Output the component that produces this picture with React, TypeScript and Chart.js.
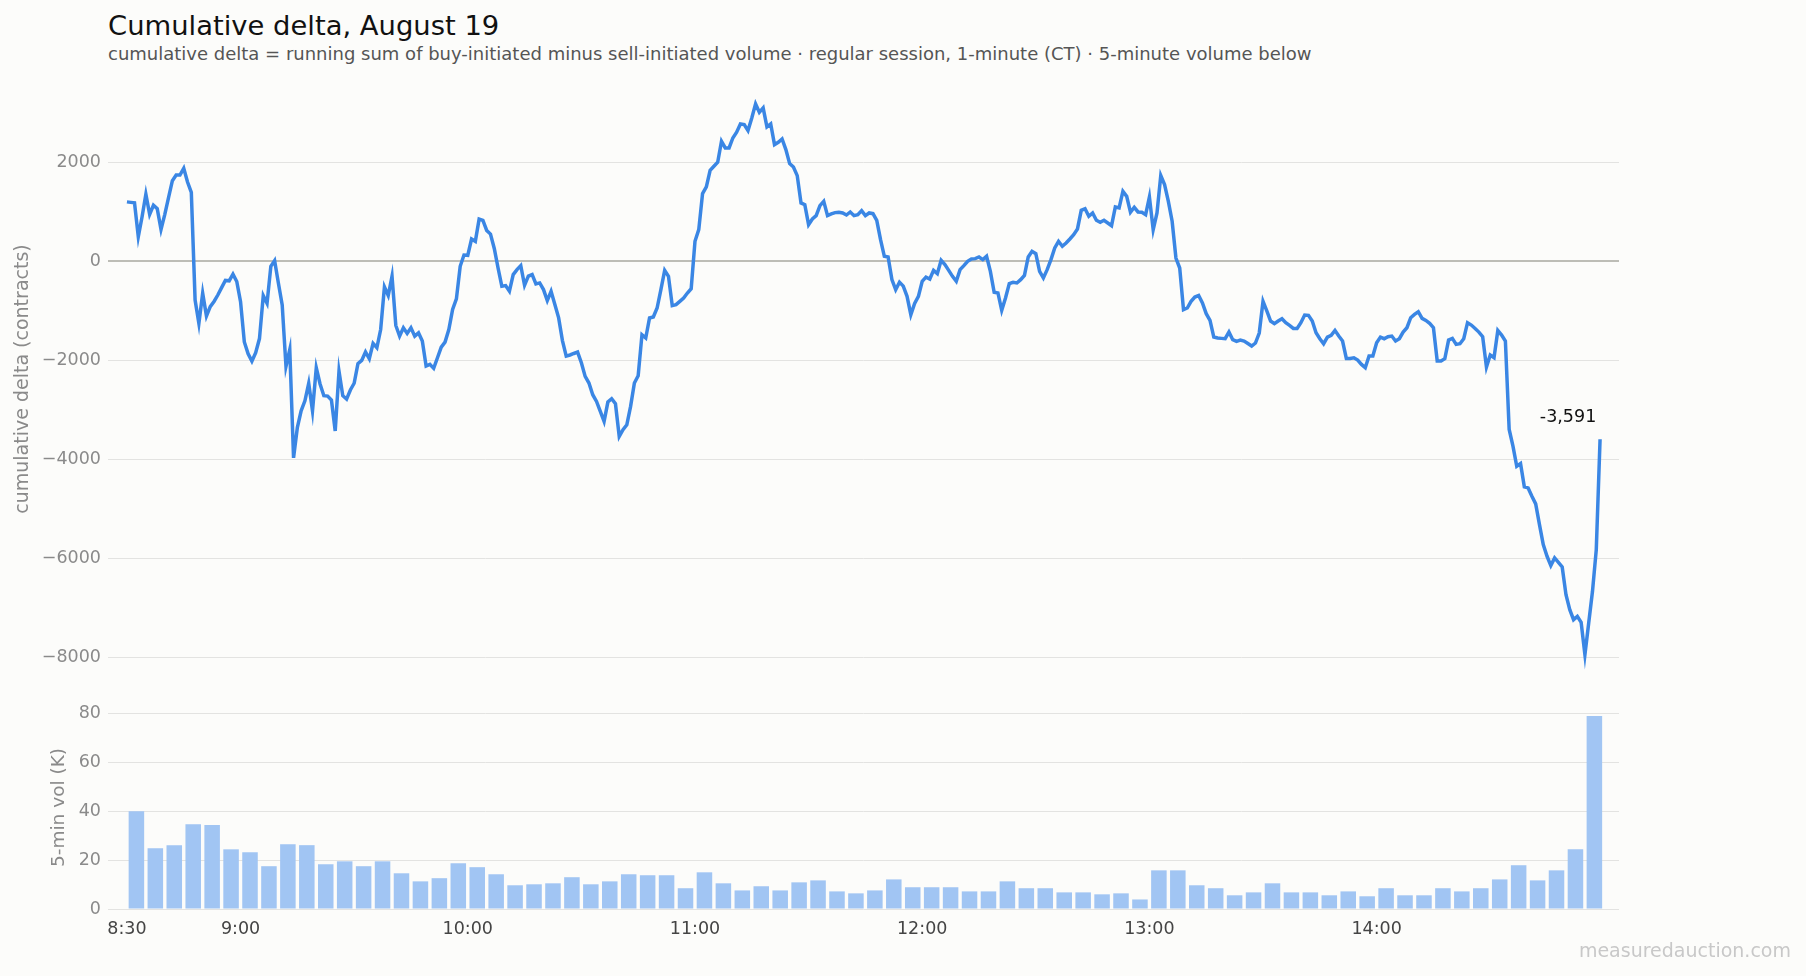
import { useEffect, useRef } from 'react';
import { Chart, registerables } from 'chart.js';

Chart.register(...registerables);

const FONT = "'DejaVu Sans', sans-serif";
const W = 1806;
const H = 976;

const titleText = 'Cumulative delta, August 19';
const subtitleText =
  'cumulative delta = running sum of buy-initiated minus sell-initiated volume · regular session, 1-minute (CT) · 5-minute volume below';
const watermarkText = 'measuredauction.com';
const deltaAxisTitle = 'cumulative delta (contracts)';
const volumeAxisTitle = '5-min vol (K)';

// cumulative delta, one value per minute starting 8:30 CT
const deltaValues = [
  1200, 1190, 1180, 495, 900, 1356, 949, 1132, 1064, 644,
  949, 1290, 1627, 1742, 1742, 1878, 1600, 1390, -780, -1254,
  -644, -1105, -915, -810, -680, -530, -386, -393, -258, -407,
  -814, -1627, -1865, -2014, -1844, -1559, -692, -848, -102, 14,
  -441, -881, -2122, -1783, -3966, -3356, -3017, -2814, -2461, -3017,
  -2149, -2475, -2712, -2720, -2800, -3424, -2217, -2712, -2780, -2597,
  -2461, -2068, -2000, -1830, -1966, -1657, -1744, -1376, -517, -691,
  -302, -1295, -1510, -1342, -1456, -1342, -1510, -1443, -1610, -2114,
  -2080, -2160, -1946, -1731, -1630, -1376, -973, -758, -100, 127,
  121, 450, 403, 852, 825, 624, 550, 260, -134, -503,
  -490, -604, -268, -168, -87, -483, -300, -268, -456, -436,
  -570, -792, -604, -872, -1141, -1600, -1912, -1890, -1860, -1832,
  -2047, -2322, -2456, -2692, -2827, -3029, -3230, -2840, -2773, -2874,
  -3533, -3399, -3300, -2928, -2456, -2308, -1481, -1548, -1144, -1124,
  -942, -572, -182, -303, -895, -875, -808, -740, -640, -552,
  404, 639, 1366, 1501, 1837, 1918, 1999, 2423, 2288, 2288,
  2490, 2605, 2773, 2759, 2638, 2894, 3177, 3008, 3096, 2712,
  2773, 2356, 2403, 2470, 2255, 1972, 1905, 1730, 1178, 1144,
  740, 855, 922, 1124, 1211, 922, 956, 983, 989, 976,
  935, 996, 922, 942, 1023, 922, 976, 962, 828, 437,
  101, 87, -370, -572, -420, -500, -707, -1077, -850, -707,
  -404, -320, -357, -182, -249, 20, -67, -182, -303, -404,
  -168, -87, 0, 47, 54, 87, 34, 101, -202, -626,
  -639, -989, -740, -451, -424, -437, -370, -283, 87, 202,
  155, -202, -336, -168, 34, 269, 404, 303, 370, 451,
  538, 653, 1030, 1063, 909, 976, 828, 787, 828, 774,
  720, 1097, 1077, 1413, 1312, 989, 1090, 996, 989, 942,
  1299, 639, 976, 1730, 1548, 1211, 808, 67, -135, -976,
  -942, -808, -720, -690, -841, -1057, -1191, -1528, -1548, -1555,
  -1561, -1427, -1582, -1615, -1590, -1610, -1660, -1710, -1649, -1447,
  -808, -1000, -1205, -1259, -1205, -1158, -1239, -1293, -1354, -1354,
  -1239, -1084, -1091, -1205, -1441, -1562, -1663, -1529, -1495, -1394,
  -1508, -1609, -1960, -1960, -1946, -1993, -2081, -2148, -1912, -1912,
  -1643, -1529, -1562, -1522, -1508, -1609, -1562, -1428, -1340, -1138,
  -1071, -1017, -1151, -1192, -1252, -1340, -2013, -2013, -1966, -1589,
  -1555, -1677, -1663, -1562, -1239, -1286, -1354, -1428, -1522, -2135,
  -1892, -1946, -1394, -1488, -1609, -3394, -3731, -4135, -4081, -4552,
  -4573, -4741, -4896, -5313, -5717, -5953, -6141, -5987, -6074, -6168,
  -6727, -7030, -7232, -7165, -7286, -7939, -7300, -6660, -5818, -3591,
];

// 5-minute volume in thousands of contracts, buckets from 8:30
const volumeK = [
  40.0, 24.8, 26.1, 34.7, 34.3, 24.4, 23.2, 17.5, 26.5, 26.1,
  18.3, 19.5, 17.5, 19.5, 14.6, 11.3, 12.6, 18.7, 17.1, 14.2,
  9.7, 10.1, 10.5, 13.0, 10.1, 11.3, 14.2, 13.8, 13.8, 8.5,
  15.0, 10.5, 7.6, 9.3, 7.6, 10.9, 11.7, 7.2, 6.4, 7.6,
  12.1, 8.9, 8.9, 8.9, 7.2, 7.2, 11.3, 8.5, 8.5, 6.8,
  6.8, 6.0, 6.4, 3.9, 15.8, 15.8, 9.7, 8.5, 5.6, 6.8,
  10.5, 6.8, 6.8, 5.6, 7.2, 5.2, 8.5, 5.6, 5.6, 8.5,
  7.2, 8.5, 12.1, 17.9, 11.7, 15.8, 24.4, 78.9,
];
const bucketMinutes = 5;

const timeTickMinutes = [0, 30, 90, 150, 210, 270, 330];
const timeTickLabels = ['8:30', '9:00', '10:00', '11:00', '12:00', '13:00', '14:00'];
const deltaTicks = [-8000, -6000, -4000, -2000, 0, 2000];
const volumeTicks = [0, 20, 40, 60, 80];

const X_MIN = -5;
const X_MAX = 394;
const PLOT_RIGHT_PAD = W - 1619;

const LINE_COLOR = '#3a86e4';
const BAR_COLOR = '#a1c5f3';
const GRID_COLOR = '#e3e3e1';
const ZERO_COLOR = '#bdbdb6';
const TICK_COLOR = '#8a8a8a';

const lastValueLabel = {
  id: 'lastValueLabel',
  afterDatasetsDraw(chart: Chart) {
    const meta = chart.getDatasetMeta(0);
    const pt = meta.data[meta.data.length - 1];
    if (!pt) return;
    const v = deltaValues[deltaValues.length - 1];
    const { ctx } = chart;
    ctx.save();
    ctx.font = `17.5px ${FONT}`;
    ctx.fillStyle = '#111';
    ctx.textAlign = 'center';
    ctx.textBaseline = 'alphabetic';
    ctx.fillText(v.toLocaleString('en-US'), pt.x - 32, pt.y - 17);
    ctx.restore();
  },
};

const setTicks = (values: number[]) => (axis: any) => {
  axis.ticks = values.map((value) => ({ value }));
};

export default function App() {
  const deltaRef = useRef<HTMLCanvasElement>(null);
  const volRef = useRef<HTMLCanvasElement>(null);

  useEffect(() => {
    if (!deltaRef.current || !volRef.current) return;
    Chart.defaults.font.family = FONT;

    const deltaChart = new Chart(deltaRef.current, {
      type: 'line',
      data: {
        datasets: [
          {
            data: deltaValues.map((y, i) => ({ x: i, y })),
            borderColor: LINE_COLOR,
            borderWidth: 3.5,
            pointRadius: 0,
            tension: 0,
            fill: false,
          },
        ],
      },
      options: {
        animation: false,
        responsive: false,
        events: [],
        layout: { padding: { left: 8, top: 78, right: PLOT_RIGHT_PAD, bottom: H - 680 } },
        plugins: { legend: { display: false }, tooltip: { enabled: false } },
        scales: {
          x: { type: 'linear', display: false, min: X_MIN, max: X_MAX, bounds: 'data' },
          y: {
            type: 'linear',
            min: -8450,
            max: 3700,
            bounds: 'data',
            afterBuildTicks: setTicks(deltaTicks),
            afterFit: (axis: any) => { axis.width = 100; },
            border: { display: false },
            grid: {
              drawTicks: false,
              color: (c: any) => (c.tick && c.tick.value === 0 ? ZERO_COLOR : GRID_COLOR),
              lineWidth: (c: any) => (c.tick && c.tick.value === 0 ? 2 : 1),
            },
            ticks: {
              padding: 7,
              color: TICK_COLOR,
              font: { size: 17.5 },
              callback: (v: any) => (v < 0 ? '\u2212' + Math.abs(v) : String(v)),
            },
            title: { display: true, text: deltaAxisTitle, color: TICK_COLOR, font: { size: 19 } },
          },
        },
      },
      plugins: [lastValueLabel],
    });

    const volChart = new Chart(volRef.current, {
      type: 'bar',
      data: {
        datasets: [
          {
            data: volumeK.map((y, i) => ({ x: i * bucketMinutes + bucketMinutes / 2, y })),
            backgroundColor: BAR_COLOR,
            borderWidth: 0,
            barPercentage: 0.82,
            categoryPercentage: 1,
          },
        ],
      },
      options: {
        animation: false,
        responsive: false,
        events: [],
        layout: { padding: { left: 44.5, top: 706, right: PLOT_RIGHT_PAD, bottom: H - 909 - 30 } },
        plugins: { legend: { display: false }, tooltip: { enabled: false } },
        scales: {
          x: {
            type: 'linear',
            min: X_MIN,
            max: X_MAX,
            bounds: 'data',
            offset: false,
            afterBuildTicks: setTicks(timeTickMinutes),
            afterFit: (axis: any) => { axis.height = 30; },
            border: { display: false },
            grid: { display: false },
            ticks: {
              padding: 2,
              color: '#444',
              font: { size: 17.5 },
              autoSkip: false,
              maxRotation: 0,
              callback: (v: any) => timeTickLabels[timeTickMinutes.indexOf(v)] ?? '',
            },
          },
          y: {
            type: 'linear',
            min: 0,
            max: 83,
            bounds: 'data',
            afterBuildTicks: setTicks(volumeTicks),
            afterFit: (axis: any) => { axis.width = 108 - 44.5; },
            border: { display: false },
            grid: { drawTicks: false, color: GRID_COLOR, lineWidth: 1 },
            ticks: { padding: 7, color: TICK_COLOR, font: { size: 17.5 } },
            title: { display: true, text: volumeAxisTitle, color: TICK_COLOR, font: { size: 18.5 } },
          },
        },
      },
    });

    return () => {
      deltaChart.destroy();
      volChart.destroy();
    };
  }, []);

  const canvasStyle: React.CSSProperties = { position: 'absolute', left: 0, top: 0, width: W, height: H };

  return (
    <div
      style={{
        position: 'absolute',
        left: 0,
        top: 0,
        width: W,
        height: H,
        background: '#fcfcfa',
        overflow: 'hidden',
        fontFamily: FONT,
      }}
    >
      <div style={{ position: 'absolute', left: 108, top: 11.5, fontSize: 27.4, lineHeight: 1, color: '#111', whiteSpace: 'nowrap' }}>
        {titleText}
      </div>
      <div style={{ position: 'absolute', left: 108, top: 44.7, fontSize: 18, lineHeight: 1, color: '#555', whiteSpace: 'nowrap' }}>
        {subtitleText}
      </div>
      <canvas ref={deltaRef} width={W} height={H} style={canvasStyle} />
      <canvas ref={volRef} width={W} height={H} style={canvasStyle} />
      <div style={{ position: 'absolute', right: 15, top: 941, fontSize: 19, lineHeight: 1, color: '#c8c8c8', whiteSpace: 'nowrap' }}>
        {watermarkText}
      </div>
    </div>
  );
}
